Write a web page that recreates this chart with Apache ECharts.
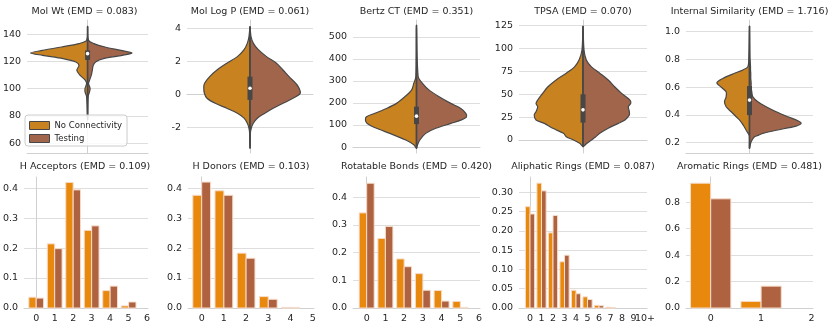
<!DOCTYPE html>
<html>
<head>
<meta charset="utf-8">
<script src="https://cdn.jsdelivr.net/npm/echarts@6/dist/echarts.min.js"></script>
<style>
html, body { margin: 0; padding: 0; background: #fff; }
#chart { width: 830px; height: 329px; }
</style>
</head>
<body>
<div id="chart"></div>
<script>
var groups = ['No Connectivity', 'Testing'];

// violins: value levels (top to bottom) and half widths in x axis units (axis is -0.5..0.5)
var molWtLevels = [145.6, 135.4, 133, 130.5, 128, 126.1, 124.4, 122, 119.5, 117, 113.4, 109.8, 106, 103.7, 100, 97.6, 94, 77];
var molWtNoConn = [0, .008, .071, .215, .373, .472, .373, .202, .097, .071, .089, .063, .018, .008, .021, .021, .008, 0];
var molWtTesting = [0, .008, .052, .144, .276, .367, .289, .131, .066, .047, .039, .031, .016, .008, .021, .016, .005, 0];
var molWtBox = [77, 121, 125.6, 128, 145.6];

var logPLevels = [4.1, 3.5, 3.1, 2.7, 2.28, 1.88, 1.47, 1.07, 0.67, 0.46, 0.06, -0.24, -0.55, -0.85, -1.15, -1.45, -1.76, -2.06, -2.36, -3.27];
var logPNoConn = [0, .008, .021, .047, .1, .184, .262, .32, .36, .367, .362, .341, .276, .184, .1, .047, .021, .008, .003, 0];
var logPTesting = [0, .008, .026, .066, .131, .21, .262, .31, .362, .383, .399, .341, .262, .184, .118, .058, .026, .01, .003, 0];
var logPBox = [-3.27, -0.34, 0.36, 1.07, 4.1];

var bertzLevels = [553, 320, 289, 258, 228, 198, 175, 153, 137, 122, 107, 85, 62, 32, 10, -6];
var bertzNoConn = [0, .005, .021, .039, .092, .157, .236, .328, .394, .402, .388, .315, .21, .084, .021, 0];
var bertzTesting = [0, .013, .047, .1, .178, .27, .349, .388, .394, .349, .27, .152, .073, .026, .008, 0];
var bertzBox = [-6, 104, 140, 183, 553];

var tpsaLevels = [124.6, 98.4, 87.5, 80, 73, 65.6, 58, 51, 43.7, 40, 36.4, 31, 27.3, 21.9, 18.2, 12.8, 7.3, 3.6, 0, -3.6, -7.3];
var tpsaNoConn = [0, .008, .031, .066, .131, .21, .276, .315, .354, .367, .354, .367, .381, .367, .302, .236, .152, .131, .073, .026, 0];
var tpsaTesting = [0, .008, .026, .066, .131, .197, .249, .302, .367, .373, .354, .362, .362, .328, .276, .197, .131, .1, .066, .031, 0];
var tpsaBox = [-7.3, 19, 33, 50, 124.6];

var simLevels = [1.04, 0.82, 0.748, 0.724, 0.70, 0.663, 0.632, 0.60, 0.567, 0.53, 0.495, 0.459, 0.423, 0.387, 0.358, 0.339, 0.32, 0.29, 0.267, 0.255, 0.243, 0.207, 0.159];
var simNoConn = [0, .005, .013, .052, .118, .21, .257, .223, .184, .184, .197, .184, .144, .105, .073, .058, .045, .026, .01, .003, 0, 0, 0];
var simTesting = [0, .003, .008, .008, .01, .01, .013, .013, .018, .026, .066, .131, .21, .302, .381, .407, .367, .21, .105, .073, .039, .013, 0];
var simBox = [0.159, 0.399, 0.507, 0.608, 1.04];

// bar panels: fractions per count
var hAccLabels = ['0', '1', '2', '3', '4', '5', '6'];
var hAccNoConn = [0.036, 0.214, 0.419, 0.259, 0.058, 0.007, 0];
var hAccTesting = [0.033, 0.198, 0.394, 0.274, 0.073, 0.020, 0];

var hDonLabels = ['0', '1', '2', '3', '4', '5'];
var hDonNoConn = [0.376, 0.391, 0.183, 0.038, 0.002, 0];
var hDonTesting = [0.420, 0.376, 0.166, 0.029, 0.001, 0];

var rotLabels = ['0', '1', '2', '3', '4', '5', '6'];
var rotNoConn = [0.343, 0.251, 0.177, 0.124, 0.063, 0.024, 0];
var rotTesting = [0.450, 0.294, 0.149, 0.064, 0.025, 0.002, 0];

var aliLabels = ['0', '1', '2', '3', '4', '5', '6', '7', '8', '9', '10+'];
var aliNoConn = [0.263, 0.324, 0.195, 0.120, 0.046, 0.029, 0.007, 0.002, 0, 0, 0];
var aliTesting = [0.244, 0.304, 0.240, 0.137, 0.037, 0.022, 0.006, 0.001, 0, 0, 0];

var aroLabels = ['0', '1', '2'];
var aroNoConn = [0.943, 0.050, 0];
var aroTesting = [0.825, 0.165, 0];

var titles = ['Mol Wt (EMD = 0.083)', 'Mol Log P (EMD = 0.061)', 'Bertz CT (EMD = 0.351)', 'TPSA (EMD = 0.070)',
    'Internal Similarity (EMD = 1.716)', 'H Acceptors (EMD = 0.109)', 'H Donors (EMD = 0.103)',
    'Rotatable Bonds (EMD = 0.420)', 'Aliphatic Rings (EMD = 0.087)', 'Aromatic Rings (EMD = 0.481)'];

var yTicks = [
    [60, 80, 100, 120, 140], [-2, 0, 2, 4], [0, 100, 200, 300, 400, 500], [0, 25, 50, 75, 100, 125], [0.2, 0.4, 0.6, 0.8, 1.0],
    [0, 0.1, 0.2, 0.3, 0.4], [0, 0.1, 0.2, 0.3, 0.4], [0, 0.1, 0.2, 0.3, 0.4], [0, 0.05, 0.1, 0.15, 0.2, 0.25, 0.3], [0, 0.2, 0.4, 0.6, 0.8]
];
var yDigits = [0, 0, 0, 0, 1, 1, 1, 1, 2, 1];
var yMin = [52.7, -3.56, -27, -14.2, 0.126, 0, 0, 0, 0, 0];
var yMax = [150.3, 4.5, 576, 131.2, 1.084, 0.437, 0.437, 0.4725, 0.34, 0.99];
var xMin = [-0.5, -0.5, -0.5, -0.5, -0.5, -0.655, -0.617, -0.73, -0.957, -0.49];
var xMax = [0.5, 0.5, 0.5, 0.5, 0.5, 6.05, 5.06, 6.05, 10.17, 2.03];

var violins = [
    [molWtLevels, molWtNoConn, molWtTesting, molWtBox],
    [logPLevels, logPNoConn, logPTesting, logPBox],
    [bertzLevels, bertzNoConn, bertzTesting, bertzBox],
    [tpsaLevels, tpsaNoConn, tpsaTesting, tpsaBox],
    [simLevels, simNoConn, simTesting, simBox]
];
var barSets = [
    [hAccLabels, hAccNoConn, hAccTesting],
    [hDonLabels, hDonNoConn, hDonTesting],
    [rotLabels, rotNoConn, rotTesting],
    [aliLabels, aliNoConn, aliTesting],
    [aroLabels, aroNoConn, aroTesting]
];

var font = "'DejaVu Sans', sans-serif";
var textColor = '#262626';
var violinColors = ['#c8821f', '#a0654a'];
var barColors = ['#e8890d', '#ae6240'];
var outline = '#474747';

var gridLefts = [21, 187, 353, 519, 686, 22, 188, 353, 519, 686];
var gridWidths = [127, 126, 127, 128, 127, 126, 126, 127, 128, 127];

function halfViolin(levels, widths, side) {
    return function (params, api) {
        var pts = [];
        for (var i = 0; i < levels.length; i++) {
            pts.push(api.coord([side * widths[i], levels[i]]));
        }
        for (var j = levels.length - 2; j > 0; j--) {
            pts.push(api.coord([0, levels[j]]));
        }
        return {
            type: 'polygon',
            shape: {points: pts, smooth: 0.3},
            style: {fill: api.visual('color'), stroke: outline, lineWidth: 1.2, lineJoin: 'round'}
        };
    };
}

function innerBox(box) {
    return function (params, api) {
        var lo = api.coord([0, box[0]]), q1 = api.coord([0, box[1]]), md = api.coord([0, box[2]]);
        var q3 = api.coord([0, box[3]]), hi = api.coord([0, box[4]]);
        return {
            type: 'group',
            children: [
                {type: 'line', shape: {x1: lo[0], y1: lo[1], x2: hi[0], y2: hi[1]}, style: {stroke: outline, lineWidth: 1.5}},
                {type: 'rect', shape: {x: q3[0] - 2.5, y: q3[1], width: 5, height: q1[1] - q3[1]}, style: {fill: outline}},
                {type: 'circle', shape: {cx: md[0], cy: md[1], r: 1.8}, style: {fill: '#fff'}}
            ]
        };
    };
}

function barItem(offset) {
    return function (params, api) {
        var x = api.value(0), v = api.value(1);
        if (!(v > 0)) return;
        var a = api.coord([x + offset, v]), b = api.coord([x + offset + 0.4, 0]);
        return {
            type: 'rect',
            shape: {x: a[0], y: a[1], width: b[0] - a[0], height: b[1] - a[1]},
            style: {fill: api.visual('color'), stroke: '#f6dccb', lineWidth: 1}
        };
    };
}

function xLabelAxis(k, labels, values, showLine) {
    return {
        type: 'value', gridIndex: k, position: 'bottom', offset: 0, min: xMin[k], max: xMax[k],
        axisLine: {show: showLine, lineStyle: {color: '#d0d0d0', width: 1}},
        axisTick: {show: false, customValues: values},
        splitLine: {show: false},
        axisLabel: {
            show: true, customValues: values, showMinLabel: true, showMaxLabel: true,
            formatter: function (v) { return labels[Math.round(v)]; },
            fontSize: 9.5, color: textColor, fontFamily: font, margin: 6
        }
    };
}

var grid = [], xAxis = [], yAxis = [], title = [], series = [];

for (var k = 0; k < 10; k++) {
    var isTop = k < 5;
    grid.push({left: gridLefts[k], width: gridWidths[k], top: isTop ? 20 : 177, height: isTop ? 133 : 131});
    title.push({
        text: titles[k], left: gridLefts[k] + gridWidths[k] / 2, top: isTop ? 6.5 : 161.5, textAlign: 'center', padding: 0,
        textStyle: {fontSize: 9.5, fontWeight: 'normal', color: textColor, fontFamily: font}
    });
    if (isTop) {
        xAxis.push({
            type: 'value', gridIndex: k, position: 'bottom', min: xMin[k], max: xMax[k],
            axisLine: {show: true, lineStyle: {color: '#d0d0d0', width: 1}},
            axisTick: {show: false, customValues: [0]},
            splitLine: {show: false},
            axisLabel: {show: false}
        });
    } else {
        var labels = barSets[k - 5][0];
        var ticks = labels.map(function (s, i) { return i; });
        // "10+" sits right next to "9", keep it on its own axis so neither label is dropped
        if (labels[labels.length - 1] === '10+') ticks.pop();
        xAxis.push(xLabelAxis(k, labels, ticks, true));
    }
    (function (k) {
        yAxis.push({
            type: 'value', gridIndex: k, position: 'left', min: yMin[k], max: yMax[k],
            axisLine: {show: true, lineStyle: {color: '#d0d0d0', width: 1}},
            axisTick: {show: false, customValues: yTicks[k]},
            splitLine: {show: true, lineStyle: {color: '#dedede', width: 1}},
            axisLabel: {
                show: true, customValues: yTicks[k], showMinLabel: true, showMaxLabel: true,
                formatter: function (v) { return v.toFixed(yDigits[k]); },
                fontSize: 9.5, color: textColor, fontFamily: font, margin: 6
            }
        });
    })(k);
}
xAxis.push(xLabelAxis(8, aliLabels, [aliLabels.length - 1], false));

for (var g = 0; g < 2; g++) {
    for (var p = 0; p < 5; p++) {
        var vio = violins[p];
        series.push({
            type: 'custom', name: groups[g], xAxisIndex: p, yAxisIndex: p,
            itemStyle: {color: violinColors[g]},
            data: [[0, vio[3][2]]],
            renderItem: halfViolin(vio[0], vio[g + 1], g === 0 ? -1 : 1)
        });
    }
}
for (var p2 = 0; p2 < 5; p2++) {
    series.push({
        type: 'custom', xAxisIndex: p2, yAxisIndex: p2, z: 3,
        data: [[0, violins[p2][3][2]]],
        renderItem: innerBox(violins[p2][3])
    });
}
for (var g2 = 0; g2 < 2; g2++) {
    for (var b = 0; b < 5; b++) {
        var vals = barSets[b][g2 + 1];
        series.push({
            type: 'custom', name: groups[g2], xAxisIndex: b + 5, yAxisIndex: b + 5,
            itemStyle: {color: barColors[g2]},
            data: vals.map(function (v, i) { return [i, v]; }),
            renderItem: barItem(g2 === 0 ? -0.4 : 0)
        });
    }
}

var chart = echarts.init(document.getElementById('chart'), null, {renderer: 'canvas'});
chart.setOption({
    backgroundColor: '#ffffff',
    animation: false,
    title: title,
    grid: grid,
    xAxis: xAxis,
    yAxis: yAxis,
    legend: {
        data: groups, orient: 'vertical', left: 25, top: 115, z: 10,
        itemWidth: 20, itemHeight: 8, itemGap: 4, icon: 'rect',
        padding: [6, 5, 3, 4],
        backgroundColor: 'rgba(255,255,255,0.85)', borderColor: '#cccccc', borderWidth: 1, borderRadius: 3,
        itemStyle: {borderColor: outline, borderWidth: 1},
        textStyle: {fontSize: 8.5, color: textColor, fontFamily: font}
    },
    series: series
});
</script>
</body>
</html>
